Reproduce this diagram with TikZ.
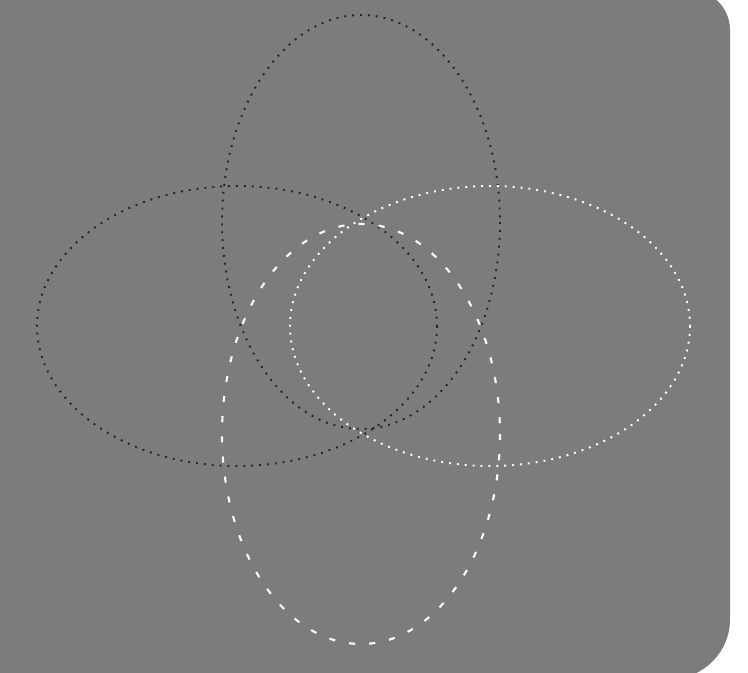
\documentclass[tikz,border=0pt]{standalone}
\begin{document}
\begin{tikzpicture}[x=0.02cm,y=-0.02cm]
\definecolor{bggray}{RGB}{124,124,124}
\tikzset{
  blackdots/.style={draw=black!85, line width=1.1pt, dash pattern=on 1.1pt off 3.4pt},
  whitedots/.style={draw=white, line width=1.1pt, dash pattern=on 1.1pt off 3.4pt},
  whitedash/.style={draw=white!95!gray, line width=1.2pt, dash pattern=on 3.5pt off 8pt},
}
\useasboundingbox (0,0) rectangle (748,673);
\fill[white] (0,0) rectangle (748,673);
% textured grey panel with rounded right corners
\fill[bggray] (-10,-10) [rounded corners=22.7pt] -- (730,-10) [rounded corners=34pt] -- (730,679) [sharp corners] -- (-10,679) -- cycle;
% four ellipses
\draw[blackdots] (361,222) ellipse [x radius=139, y radius=207];
\draw[blackdots] (237,326) ellipse [x radius=200, y radius=140];
\draw[whitedots] (490,326) ellipse [x radius=200, y radius=140];
\draw[whitedash] (361,434) ellipse [x radius=139, y radius=210];
\end{tikzpicture}
\end{document}
